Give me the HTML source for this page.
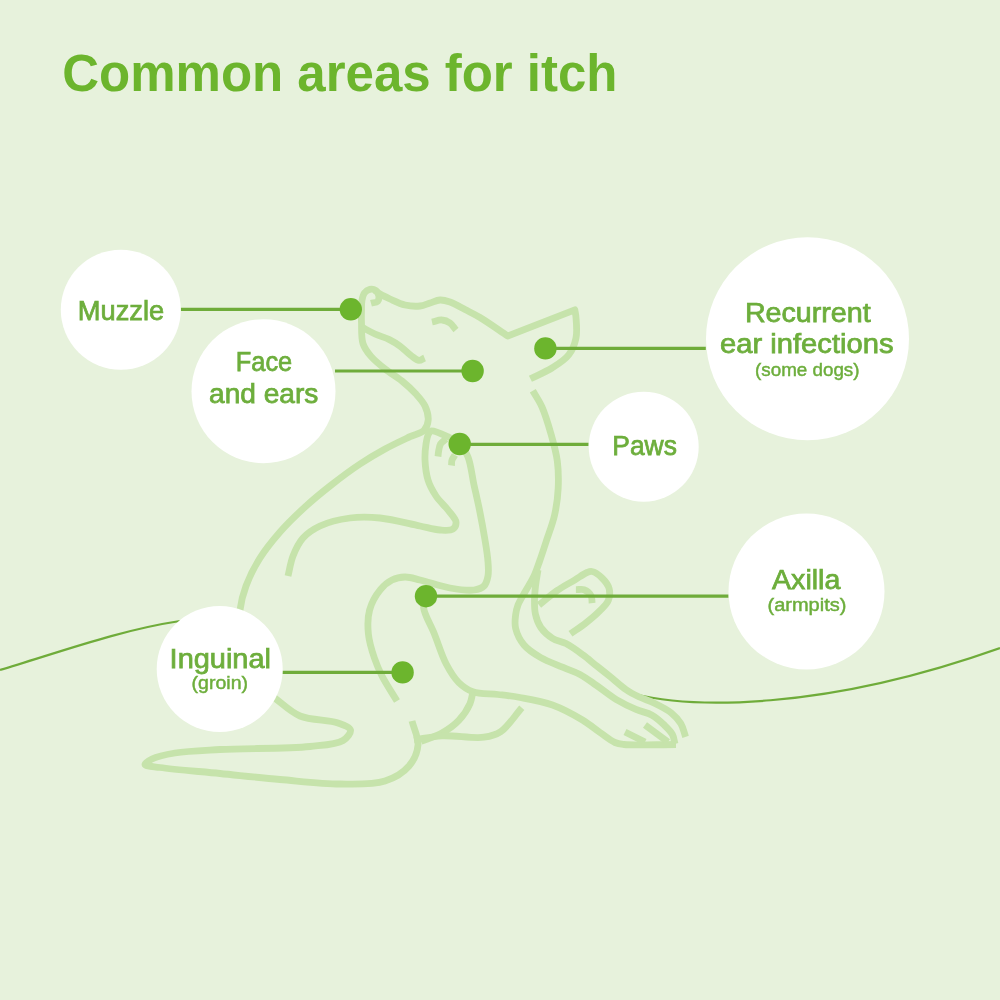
<!DOCTYPE html>
<html><head><meta charset="utf-8"><style>
html,body{margin:0;padding:0;width:1000px;height:1000px;overflow:hidden;background:#e7f2dc}
svg{display:block;font-family:"Liberation Sans",sans-serif;will-change:transform}
</style></head><body>
<svg width="1000" height="1000" viewBox="0 0 1000 1000">
<rect width="1000" height="1000" fill="#e7f2dc"/>
<path d="M0,670 C60,652 120,630 180,621" fill="none" stroke="#6fac3a" stroke-width="2.2"/>
<path d="M634,694 C690,708 820,712 1000,648" fill="none" stroke="#6fac3a" stroke-width="2.2"/>
<g fill="none" stroke="#c6e3ab" stroke-width="6.8" stroke-linecap="butt" stroke-linejoin="round">
<path d="M371.0,303.2 C373.2,302.6 376.3,302.7 377.6,301.4 C378.7,300.2 379.1,297.8 378.8,296.0 C378.5,294.1 377.3,291.7 375.8,290.6 C374.3,289.5 371.7,289.0 369.8,289.4 C367.9,289.8 365.7,291.3 364.4,293.0 C363.0,294.8 362.5,297.5 362.0,300.2 C361.4,303.4 361.6,307.3 361.5,311.0 C361.4,314.9 361.3,318.5 361.5,323.0 C361.7,328.9 361.1,337.7 363.0,343.6 C364.6,348.6 367.6,352.4 371.0,356.4 C374.9,361.0 380.3,365.2 385.4,369.2 C390.6,373.4 396.8,376.8 402.0,381.0 C407.0,385.1 412.0,389.6 416.0,394.0 C419.5,397.9 423.0,401.6 425.0,406.0 C427.0,410.3 428.5,415.7 428.2,420.0 C427.9,423.8 426.6,427.7 424.0,430.4 C421.0,433.6 415.3,434.2 410.0,436.7 C402.8,440.1 393.2,444.5 385.0,449.0 C376.6,453.6 368.6,458.3 360.0,464.0 C350.3,470.4 339.4,478.6 330.0,486.0 C321.2,492.9 313.2,499.5 305.0,507.0 C296.5,514.8 287.6,523.3 280.0,532.0 C272.7,540.4 265.7,548.9 260.0,558.0 C254.4,566.9 249.4,576.8 246.0,586.0 C243.0,594.1 241.1,601.2 240.0,610.0 C238.7,620.5 238.1,634.2 240.0,645.0 C241.7,654.8 245.9,664.4 250.0,672.0 C253.4,678.3 257.5,683.4 262.0,688.0 C266.2,692.3 270.7,695.0 276.0,699.0 C282.9,704.1 290.6,712.0 300.0,716.0 C310.8,720.6 329.0,719.7 338.0,723.0 C343.5,725.0 349.8,727.0 350.5,730.0 C351.1,732.9 347.2,737.9 343.0,740.5 C336.3,744.7 323.8,745.0 310.0,746.5 C287.4,748.9 244.8,748.1 220.0,749.5 C202.4,750.5 187.4,750.9 175.0,753.0 C166.0,754.5 157.3,756.4 152.0,759.0 C148.8,760.6 144.7,763.1 145.0,764.5 C145.4,766.3 153.3,766.5 160.0,767.5 C173.3,769.5 200.0,771.5 220.0,773.5 C240.0,775.5 260.0,777.7 280.0,779.5 C300.0,781.2 321.4,783.9 340.0,784.0 C356.1,784.1 372.7,785.0 385.0,781.0 C394.7,777.9 403.5,772.5 409.0,766.0 C414.0,760.2 417.4,752.3 418.0,745.0 C418.6,737.4 414.0,729.0 412.0,721.0"/>
<path d="M375.0,290.5 C376.7,291.7 378.0,292.8 380.0,294.0 C382.7,295.6 386.3,297.3 390.0,299.0 C394.5,301.0 399.9,303.8 405.0,305.0 C409.9,306.1 415.5,306.5 420.0,306.0 C423.7,305.6 426.7,304.0 430.0,303.0 C433.3,302.0 436.6,300.2 440.0,300.0 C443.3,299.8 446.4,300.8 450.0,302.0 C454.6,303.6 460.0,306.9 465.0,309.5 C470.0,312.1 474.3,314.1 480.0,317.5 C487.9,322.2 498.4,329.8 507.6,336.0 L574.8,309.8 C575.2,312.4 575.8,314.4 576.0,317.6 C576.4,322.8 577.3,331.7 576.0,338.0 C574.8,344.0 572.5,349.9 568.8,354.8 C564.8,360.1 558.2,364.1 552.0,368.0 C545.4,372.2 537.6,375.2 530.4,378.8"/>
<path d="M361.5,327.0 C366.0,329.3 370.4,331.9 375.0,334.0 C379.7,336.1 385.1,337.5 389.4,339.6 C393.2,341.5 396.4,343.5 399.8,346.0 C403.6,348.8 407.5,353.1 411.0,355.6 C413.8,357.6 416.5,360.2 419.0,360.4 C421.0,360.5 422.7,358.8 424.6,358.0"/>
<path d="M432.0,322.0 C435.3,321.3 438.9,319.7 442.0,320.0 C444.9,320.2 447.7,321.4 450.0,323.0 C452.4,324.7 454.0,327.7 456.0,330.0"/>
<path d="M288.0,576.0 C289.7,569.3 290.5,562.3 293.0,556.0 C295.5,549.7 298.5,543.0 303.0,538.0 C307.5,533.0 313.2,529.2 320.0,526.0 C328.3,522.1 339.9,519.3 350.0,518.0 C359.9,516.7 369.3,516.9 380.0,518.0 C392.4,519.2 409.0,523.8 420.0,526.0 C427.8,527.6 434.0,529.6 440.0,530.0 C444.8,530.3 450.4,530.9 453.0,529.0 C455.0,527.6 456.2,524.6 456.0,522.0 C455.7,518.5 451.1,514.1 448.0,510.0 C444.5,505.4 439.3,501.0 436.0,496.0 C432.7,491.0 429.8,485.8 428.0,480.0 C426.1,473.8 425.3,466.3 425.0,460.0 C424.8,454.4 425.3,448.7 426.0,444.0 C426.6,440.2 427.3,436.3 428.5,434.0 C429.2,432.6 429.6,431.4 431.0,431.0 C434.0,430.2 442.8,434.4 447.8,436.7 C452.2,438.8 456.4,440.7 459.7,444.0 C463.2,447.4 465.8,451.6 468.0,457.0 C471.0,464.4 472.0,475.9 474.0,485.0 C475.9,493.6 477.7,501.3 479.5,510.0 C481.4,519.5 483.5,530.8 485.0,540.0 C486.3,547.9 487.6,555.5 488.0,562.0 C488.4,567.2 488.8,571.8 488.0,576.0 C487.3,579.7 486.3,583.7 484.0,586.0 C481.7,588.3 478.1,589.4 474.0,590.0 C467.8,590.9 458.4,589.5 450.0,588.0 C440.5,586.3 428.3,581.9 420.0,580.0 C414.2,578.6 409.8,576.9 405.0,577.0 C400.5,577.1 396.0,578.0 392.0,580.0 C387.8,582.1 383.8,585.4 380.4,589.6 C376.1,594.8 371.6,602.7 369.6,610.0 C367.5,617.5 367.6,626.1 368.4,634.0 C369.2,642.1 371.9,650.7 374.4,658.0 C376.6,664.5 378.8,669.6 382.0,676.0 C386.0,683.8 392.0,692.7 397.0,701.0"/>
<path d="M446.0,439.0 C444.2,440.7 441.7,441.9 440.5,444.0 C439.2,446.2 438.9,449.7 438.5,452.0 C438.2,453.7 438.2,455.0 438.0,456.5"/>
<path d="M455.0,455.0 C454.0,456.7 452.6,458.2 452.0,460.0 C451.4,461.7 451.7,463.7 451.5,465.5"/>
<path d="M426.0,596.0 C425.2,599.9 423.2,603.0 423.6,607.6 C424.3,614.7 430.8,624.9 434.4,634.0 C438.3,643.7 441.7,655.4 446.2,664.0 C450.0,671.2 453.9,677.8 458.8,682.6 C463.0,686.7 467.2,689.7 472.8,691.7 C479.7,694.2 489.9,693.5 498.0,694.5 C505.6,695.4 512.0,696.0 520.0,697.5 C529.8,699.3 542.1,701.3 552.5,705.0 C562.9,708.8 574.0,714.9 582.5,720.0 C589.3,724.1 594.4,728.6 600.0,732.5 C605.2,736.1 610.5,740.6 615.0,742.5 C618.2,743.9 619.7,744.0 624.0,744.5 C634.1,745.6 658.7,744.5 676.0,744.5"/>
<path d="M472.8,692.4 C471.9,696.1 471.7,699.7 470.0,703.6 C467.7,708.8 463.4,715.5 458.8,720.4 C454.1,725.4 448.2,729.5 442.0,733.0 C435.6,736.6 428.0,738.6 421.0,741.4"/>
<path d="M414.0,740.0 C423.3,738.6 431.7,736.4 442.0,735.8 C454.6,735.1 473.3,738.8 484.0,737.2 C491.0,736.2 495.4,735.2 500.8,731.6 C508.1,726.8 514.8,715.7 521.8,707.8"/>
<path d="M532.8,390.8 C535.9,396.2 539.2,400.8 542.0,407.0 C545.4,414.7 548.4,424.9 551.0,434.0 C553.5,442.9 556.1,451.9 557.3,461.0 C558.5,469.9 558.6,479.0 558.2,488.0 C557.8,497.0 556.6,506.1 554.6,515.0 C552.6,524.1 548.6,533.9 546.0,542.0 C543.8,548.6 542.1,554.2 540.0,560.0 C538.0,565.5 536.4,570.8 534.0,576.0 C531.5,581.4 527.8,586.9 525.0,592.0 C522.5,596.5 519.6,600.9 518.0,605.0 C516.7,608.5 516.0,611.4 515.6,615.0 C515.1,619.1 514.5,623.7 515.6,628.2 C516.9,633.6 520.0,640.2 524.0,645.0 C528.2,650.1 534.6,654.0 540.8,657.6 C547.5,661.5 556.3,664.4 563.2,667.4 C569.2,670.0 574.5,671.5 580.0,674.4 C585.8,677.5 591.0,681.6 596.8,685.6 C603.1,690.0 609.7,695.6 616.4,699.6 C622.8,703.4 629.7,706.7 636.0,709.4 C641.5,711.8 647.2,712.5 652.0,715.2 C656.5,717.7 660.5,721.4 664.0,724.8 C667.2,727.9 670.6,731.0 672.4,734.4 C674.0,737.4 674.1,740.8 675.0,744.0"/>
<path d="M538.0,570.0 C537.1,575.7 536.0,581.6 535.4,587.0 C534.9,591.7 534.5,596.0 534.5,600.5 C534.5,605.0 534.4,609.6 535.4,614.0 C536.4,618.6 538.1,623.5 540.8,627.5 C543.7,631.7 548.2,635.6 552.5,638.3 C556.6,640.9 561.4,641.2 566.0,643.6 C571.4,646.4 577.5,650.9 582.8,654.8 C587.8,658.4 592.1,662.3 596.8,666.0 C601.5,669.7 606.0,673.3 610.8,677.2 C615.8,681.3 621.2,686.4 626.2,689.8 C630.5,692.7 634.3,694.6 638.8,696.8 C643.7,699.1 649.2,700.7 654.4,703.2 C660.0,705.9 666.6,709.1 671.2,712.8 C675.2,716.0 678.4,719.6 680.8,723.6 C683.2,727.6 684.0,732.4 685.6,736.8"/>
<path d="M539.0,605.0 C545.0,600.2 550.9,594.9 557.0,590.6 C562.9,586.5 569.6,583.1 575.0,579.8 C579.4,577.1 583.8,573.8 587.0,572.5 C588.9,571.7 590.1,571.1 592.0,571.5 C594.9,572.0 599.2,575.2 602.0,578.0 C605.0,580.9 608.2,584.9 609.2,588.8 C610.2,592.5 609.7,597.0 608.3,600.5 C606.8,604.2 603.5,607.0 600.2,610.4 C596.2,614.5 590.8,619.1 585.8,623.0 C580.9,626.9 575.6,630.2 570.5,633.8"/>
<path d="M575.9,589.7 C578.6,589.7 581.5,588.8 584.0,589.7 C586.7,590.7 589.9,593.5 591.2,596.0 C592.3,598.1 591.8,600.8 592.1,603.2"/>
<path d="M625.0,732.0 C631.7,735.3 638.3,738.7 645.0,742.0"/>
<path d="M645.0,725.0 C652.7,730.7 660.3,736.3 668.0,742.0"/>
</g>
<line x1="180.8" y1="309.3" x2="350.8" y2="309.3" stroke="#6fac3a" stroke-width="3.2"/>
<line x1="335.0" y1="371.0" x2="472.6" y2="371.0" stroke="#6fac3a" stroke-width="3.2"/>
<line x1="545.4" y1="348.4" x2="705.8" y2="348.4" stroke="#6fac3a" stroke-width="3.2"/>
<line x1="459.7" y1="444.3" x2="588.5" y2="444.3" stroke="#6fac3a" stroke-width="3.2"/>
<line x1="426.0" y1="596.2" x2="728.5" y2="596.2" stroke="#6fac3a" stroke-width="3.2"/>
<line x1="282.4" y1="672.4" x2="402.6" y2="672.4" stroke="#6fac3a" stroke-width="3.2"/>
<circle cx="350.8" cy="309.3" r="11.2" fill="#6cb52d"/>
<circle cx="472.6" cy="371.0" r="11.2" fill="#6cb52d"/>
<circle cx="545.4" cy="348.4" r="11.2" fill="#6cb52d"/>
<circle cx="459.7" cy="444.0" r="11.2" fill="#6cb52d"/>
<circle cx="426.0" cy="596.2" r="11.2" fill="#6cb52d"/>
<circle cx="402.6" cy="672.4" r="11.2" fill="#6cb52d"/>
<circle cx="120.8" cy="309.8" r="60.0" fill="#ffffff"/>
<text x="77.8" y="320.2" font-size="27" textLength="86.4" lengthAdjust="spacingAndGlyphs" fill="#6dae3c" stroke="#6dae3c" stroke-width="0.75">Muzzle</text>
<circle cx="263.5" cy="391.2" r="72.0" fill="#ffffff"/>
<text x="235.8" y="371.4" font-size="27" textLength="56.4" lengthAdjust="spacingAndGlyphs" fill="#6dae3c" stroke="#6dae3c" stroke-width="0.75">Face</text>
<text x="209.0" y="402.8" font-size="27" textLength="109.4" lengthAdjust="spacingAndGlyphs" fill="#6dae3c" stroke="#6dae3c" stroke-width="0.75">and ears</text>
<circle cx="807.5" cy="338.8" r="101.5" fill="#ffffff"/>
<text x="744.9" y="321.8" font-size="27" textLength="125.8" lengthAdjust="spacingAndGlyphs" fill="#6dae3c" stroke="#6dae3c" stroke-width="0.75">Recurrent</text>
<text x="720.0" y="353.1" font-size="27" textLength="173.5" lengthAdjust="spacingAndGlyphs" fill="#6dae3c" stroke="#6dae3c" stroke-width="0.75">ear infections</text>
<text x="755.1" y="375.5" font-size="18" textLength="104.4" lengthAdjust="spacingAndGlyphs" fill="#6dae3c" stroke="#6dae3c" stroke-width="0.45">(some dogs)</text>
<circle cx="643.7" cy="446.7" r="55.0" fill="#ffffff"/>
<text x="612.3" y="455.1" font-size="27" textLength="64.6" lengthAdjust="spacingAndGlyphs" fill="#6dae3c" stroke="#6dae3c" stroke-width="0.75">Paws</text>
<circle cx="806.5" cy="591.5" r="78.0" fill="#ffffff"/>
<text x="772.0" y="589.4" font-size="27" textLength="68.4" lengthAdjust="spacingAndGlyphs" fill="#6dae3c" stroke="#6dae3c" stroke-width="0.75">Axilla</text>
<text x="767.5" y="611.0" font-size="18" textLength="78.9" lengthAdjust="spacingAndGlyphs" fill="#6dae3c" stroke="#6dae3c" stroke-width="0.45">(armpits)</text>
<circle cx="219.7" cy="669.0" r="63.0" fill="#ffffff"/>
<text x="169.6" y="667.5" font-size="27" textLength="101.4" lengthAdjust="spacingAndGlyphs" fill="#6dae3c" stroke="#6dae3c" stroke-width="0.75">Inguinal</text>
<text x="191.6" y="689.0" font-size="18" textLength="56.4" lengthAdjust="spacingAndGlyphs" fill="#6dae3c" stroke="#6dae3c" stroke-width="0.45">(groin)</text>
<text x="62.3" y="90.5" font-size="51" font-weight="bold" textLength="555.2" lengthAdjust="spacingAndGlyphs" fill="#6cb52d">Common areas for itch</text>
</svg>
</body></html>
